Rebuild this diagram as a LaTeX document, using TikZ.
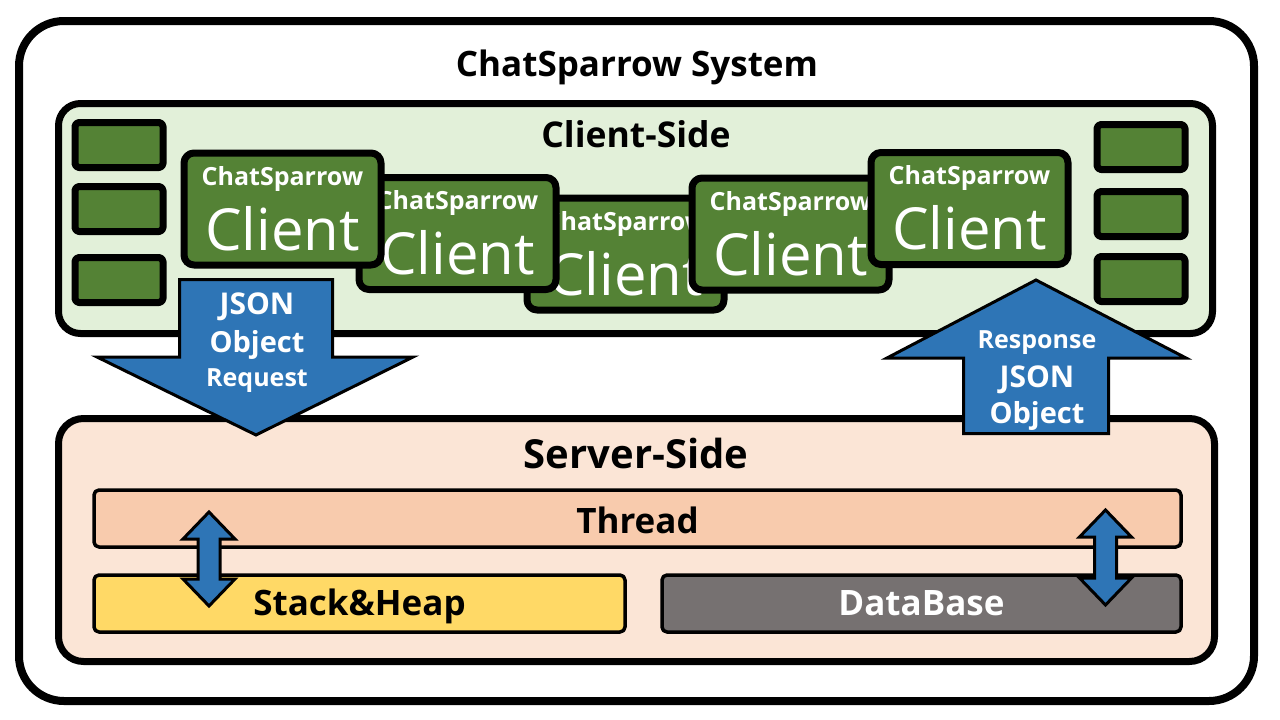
\documentclass[tikz,border=0pt]{standalone}
\usepackage{fontspec}
\setmainfont{Open Sans}
\usetikzlibrary{positioning,calc}
\definecolor{arrowblue}{HTML}{2E75B6}
\definecolor{clientgreen}{HTML}{548235}
\definecolor{clientbg}{HTML}{E2F0D9}
\definecolor{serverbg}{HTML}{FBE5D6}
\definecolor{threadfill}{HTML}{F8CBAD}
\definecolor{heapfill}{HTML}{FFD966}
\definecolor{dbfill}{HTML}{767171}
\newcommand{\pxfont}[1]{\fontsize{#1}{#1}\selectfont}
\tikzset{every picture/.style={x=1pt,y=-1pt,line join=round}}
\tikzset{panel/.style={draw,line width=7pt,inner sep=0pt}}
\tikzset{slot box/.style={draw,line width=7pt,fill=clientgreen,rounded corners=4pt,minimum width=88pt,minimum height=45pt,inner sep=0pt}}
\tikzset{client box/.style={draw,line width=7pt,fill=clientgreen,rounded corners=10pt,minimum width=197pt,minimum height=112pt,inner sep=0pt}}
\tikzset{layer box/.style={draw,line width=3.5pt,rounded corners=5pt,minimum height=57pt,inner sep=0pt}}
\tikzset{layer text/.style={anchor=base,font=\bfseries\pxfont{35}}}
\tikzset{block arrow/.style={draw,line width=3pt,fill=arrowblue,line join=miter}}
\tikzset{arrow text/.style={anchor=base,text=white,font=\bfseries\pxfont{#1}}}

\begin{document}
\begin{tikzpicture}
  \useasboundingbox (0,0) rectangle (1280,720);
  % whole system
  \node[panel,fill=white,line width=8pt,rounded corners=45pt,minimum width=1235pt,minimum height=680pt] (system) at (636.5,361) {};
  \node[anchor=base,font=\bfseries\pxfont{35}] (title) at (637,76) {ChatSparrow System};

  % client side
  \node[panel,fill=clientbg,rounded corners=22pt,minimum width=1154pt,minimum height=230pt] (clientside) at (635.5,218.5) {};
  \node[anchor=base,font=\bfseries\pxfont{35.5}] (clienttitle) at (636,147) {Client-Side};
  \foreach \y [count=\i] in {145,209,280} \node[slot box] (lslot\i) at (119,\y) {};
  \foreach \y [count=\i] in {147,214,279} \node[slot box] (rslot\i) at (1141,\y) {};
  \foreach \n/\x/\y in {3/625.5/254,2/457.5/233.5,4/790.5/234,1/282.5/209,5/969.5/208.5}{
    \node[client box] (client\n) at (\x,\y) {};
    \node[anchor=base,text=white,font=\bfseries\pxfont{25}] (client\n-top) at ($(client\n.center)+(0,-24)$) {ChatSparrow};
    \node[anchor=base,text=white,font=\pxfont{58}] (client\n-name) at ($(client\n.center)+(0,41)$) {Client};
  }

  % server side
  \node[panel,fill=serverbg,rounded corners=25pt,minimum width=1156pt,minimum height=243pt] (serverside) at (636.5,540) {};
  \node[anchor=base,font=\bfseries\pxfont{40}] (servertitle) at (636,468) {Server-Side};
  \node[layer box,fill=threadfill,minimum width=1087pt] (thread) at (637.5,518.5) {};
  \node[layer text] (threadtext) at ($(thread.center)+(0,14.5)$) {Thread};
  \node[layer box,fill=heapfill,minimum width=531pt] (heap) at (359.5,603.5) {};
  \node[layer text] (heaptext) at ($(heap.center)+(0,12)$) {Stack\&Heap};
  \node[layer box,fill=dbfill,minimum width=519pt] (db) at (921.5,603.5) {};
  \node[layer text,text=white] (dbtext) at ($(db.center)+(0,12)$) {DataBase};

  % thread <-> memory, thread <-> database
  \foreach \x/\t/\b in {209/512/606,1105.5/510/605}
    \draw[block arrow] (\x,\t) -- ++(26,27) -- ++(-15,0) -- (\x+11,\b-27) -- ++(15,0) -- (\x,\b)
      -- ++(-26,-27) -- ++(15,0) -- (\x-11,\t+27) -- ++(-15,0) -- cycle;

  % request going down
  \draw[block arrow] (179.5,279.5) -- (332.5,279.5) -- (332.5,357) -- (413,357) -- (256,435)
    -- (97,357) -- (179.5,357) -- cycle;
  \node[arrow text=30] (req1) at (257,314) {JSON};
  \node[arrow text=29] (req2) at (257,352) {Object};
  \node[arrow text=25] (req3) at (257,386) {Request};

  % response going up
  \draw[block arrow] (1036,280) -- (1186,358) -- (1108.5,358) -- (1108.5,433.5) -- (963.5,433.5)
    -- (963.5,358) -- (887,358) -- cycle;
  \node[arrow text=25] (res1) at (1037,348) {Response};
  \node[arrow text=30] (res2) at (1037,387) {JSON};
  \node[arrow text=29] (res3) at (1037,423) {Object};
\end{tikzpicture}
\end{document}
